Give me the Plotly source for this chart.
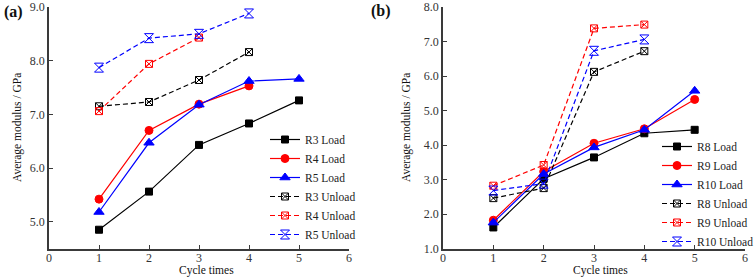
import plotly.graph_objects as go

# ---------------- data ----------------
cycles = [1, 2, 3, 4, 5]

# panel (a)
r3_load = [4.85, 5.56, 6.43, 6.83, 7.26]
r4_load = [5.42, 6.70, 7.19, 7.53]
r5_load = [5.18, 6.47, 7.18, 7.62, 7.66]
r3_unload = [7.15, 7.23, 7.64, 8.16]
r4_unload = [7.06, 7.94, 8.43]
r5_unload = [7.87, 8.42, 8.50, 8.88]

# panel (b)
r8_load = [1.61, 3.02, 3.64, 4.34, 4.44]
r9_load = [1.82, 3.23, 4.05, 4.47, 5.32]
r10_load = [1.75, 3.16, 3.93, 4.44, 5.57]
r8_unload = [2.46, 2.75, 6.12, 6.72]
r9_unload = [2.82, 3.42, 7.38, 7.49]
r10_unload = [2.68, 2.88, 6.73, 7.06]

x_ticks = [0, 1, 2, 3, 4, 5, 6]
y_ticks_a = [5, 6, 7, 8, 9]
y_ticks_b = [1, 2, 3, 4, 5, 6, 7, 8]

FONT = "Liberation Serif, Times New Roman, serif"
AX = "#3a3a3a"
W, H = 754, 280

fig = go.Figure()


def add(name, y, color, symbol, size, dash, xa, ya, legend):
    fig.add_trace(go.Scatter(
        x=cycles[:len(y)], y=y, name=name, mode="lines+markers",
        xaxis=xa, yaxis=ya, legend=legend,
        line=dict(color=color, width=1.2, dash=dash),
        marker=dict(color=color, symbol=symbol, size=size,
                    line=dict(color=color, width=1)),
    ))


LD = "solid"
UD = "5px,3px"
add("R3 Load", r3_load, "#000000", "square", 7, LD, "x", "y", "legend")
add("R4 Load", r4_load, "#ff0000", "circle", 8, LD, "x", "y", "legend")
add("R5 Load", r5_load, "#0000ff", "triangle-up", 9, LD, "x", "y", "legend")
add("R3 Unload", r3_unload, "#000000", "square-x-open", 7, UD, "x", "y", "legend")
add("R4 Unload", r4_unload, "#ff0000", "square-x-open", 7, UD, "x", "y", "legend")
add("R5 Unload", r5_unload, "#0000ff", "hourglass-open", 9, UD, "x", "y", "legend")

add("R8 Load", r8_load, "#000000", "square", 7, LD, "x2", "y2", "legend2")
add("R9 Load", r9_load, "#ff0000", "circle", 8, LD, "x2", "y2", "legend2")
add("R10 Load", r10_load, "#0000ff", "triangle-up", 9, LD, "x2", "y2", "legend2")
add("R8 Unload", r8_unload, "#000000", "square-x-open", 7, UD, "x2", "y2", "legend2")
add("R9 Unload", r9_unload, "#ff0000", "square-x-open", 7, UD, "x2", "y2", "legend2")
add("R10 Unload", r10_unload, "#0000ff", "hourglass-open", 9, UD, "x2", "y2", "legend2")


def px_x(p):
    return p / W


def px_y(p):
    return 1 - p / H


axis_common = dict(
    showline=True, linecolor=AX, linewidth=1.5,
    ticks="inside", ticklen=4, tickwidth=1.2, tickcolor=AX,
    showgrid=False, zeroline=False, automargin=False,
    tickfont=dict(family=FONT, size=12, color="#333333"),
)

fig.update_layout(
    width=W, height=H,
    margin=dict(l=0, r=0, t=0, b=0, autoexpand=False),
    paper_bgcolor="white", plot_bgcolor="white",
    font=dict(family=FONT, color="#222222"),
    showlegend=True,
    xaxis=dict(domain=[px_x(49), px_x(349)], range=[0, 6], tickvals=x_ticks,
               anchor="y", ticklabelstandoff=-3, **axis_common),
    yaxis=dict(domain=[px_y(248.5), px_y(7)], range=[4.5, 9.0], tickvals=y_ticks_a,
               tickformat=".1f", anchor="x", **axis_common),
    xaxis2=dict(domain=[px_x(443), px_x(745)], range=[0, 6], tickvals=x_ticks,
                anchor="y2", ticklabelstandoff=-3, **axis_common),
    yaxis2=dict(domain=[px_y(248.5), px_y(7)], range=[1.0, 8.0], tickvals=y_ticks_b,
                tickformat=".1f", anchor="x2", **axis_common),
    legend=dict(x=px_x(265), y=px_y(125), xanchor="left", yanchor="top",
                font=dict(family=FONT, size=11.5, color="#222222"),
                bgcolor="rgba(0,0,0,0)", tracegroupgap=0),
    legend2=dict(x=px_x(657), y=px_y(132), xanchor="left", yanchor="top",
                 font=dict(family=FONT, size=11.5, color="#222222"),
                 bgcolor="rgba(0,0,0,0)", tracegroupgap=0),
)

ann = [
    dict(text="<b>(a)</b>", x=px_x(2), y=px_y(12), xanchor="left", yanchor="middle",
         font=dict(size=16)),
    dict(text="<b>(b)</b>", x=px_x(369), y=px_y(11), xanchor="left", yanchor="middle",
         font=dict(size=16)),
    dict(text="Average modulus / GPa", x=px_x(18), y=px_y(128), textangle=-90,
         xanchor="center", yanchor="middle", font=dict(size=11.5)),
    dict(text="Average modulus / GPa", x=px_x(407), y=px_y(128), textangle=-90,
         xanchor="center", yanchor="middle", font=dict(size=11.5)),
    dict(text="Cycle times", x=px_x(206), y=px_y(270), xanchor="center",
         yanchor="middle", font=dict(size=11.5)),
    dict(text="Cycle times", x=px_x(600), y=px_y(270), xanchor="center",
         yanchor="middle", font=dict(size=11.5)),
]
for a in ann:
    a.update(xref="paper", yref="paper", showarrow=False)
    a["font"].update(family=FONT, color="#111111")
fig.update_layout(annotations=ann)

fig.write_html("out.html", config={"displayModeBar": False},
               post_script="document.body.style.margin='0px';")
